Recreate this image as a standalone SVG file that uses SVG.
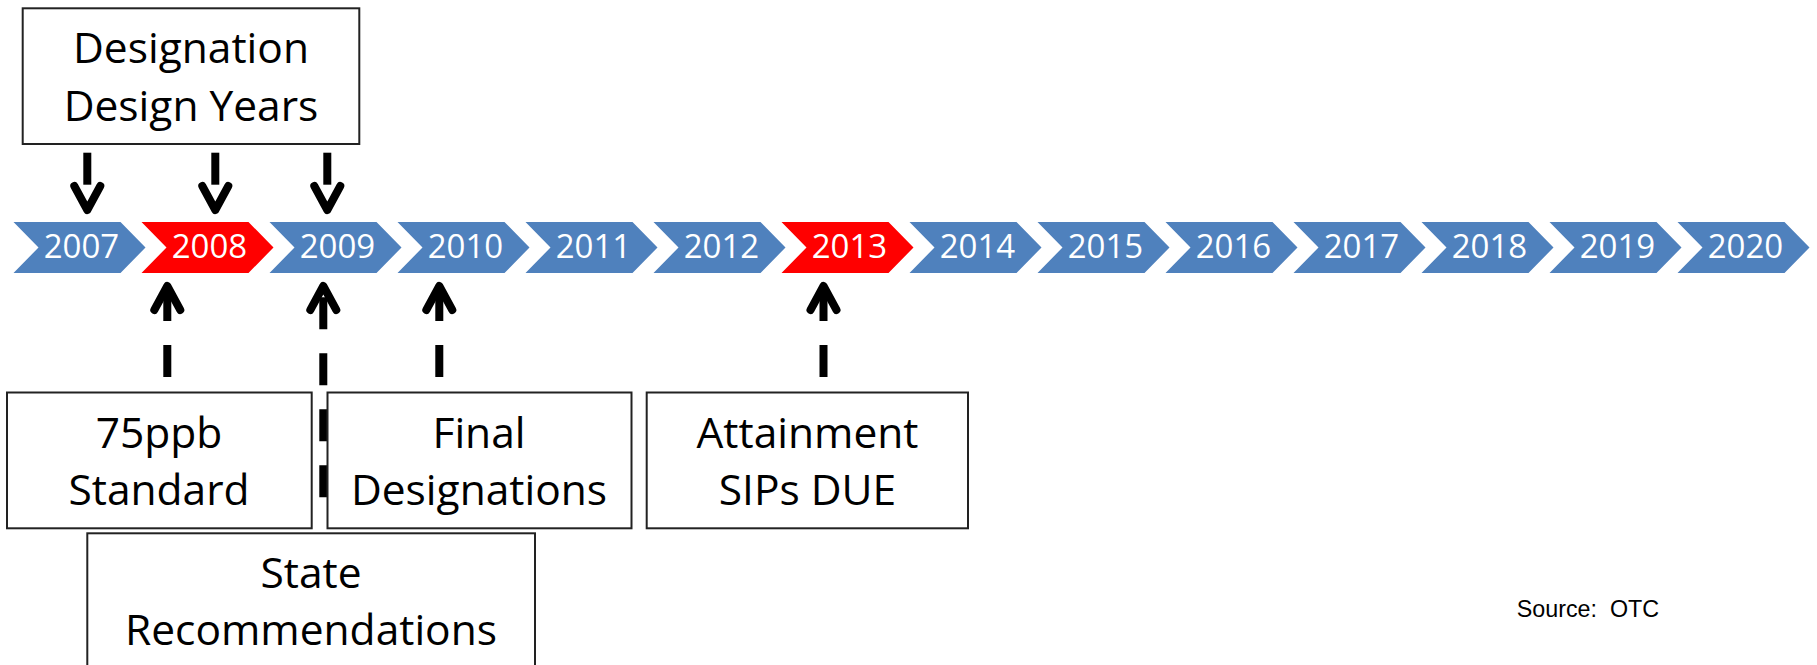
<svg xmlns="http://www.w3.org/2000/svg" width="1817" height="665" viewBox="0 0 1817 665">
<style>
.chev-blue{fill:#4F81BD}
.chev-red{fill:#FF0000}
.year{font-family:"Open Sans","Noto Sans",sans-serif;font-size:33px;fill:#fff;text-anchor:middle}
.box{fill:#fff;stroke:#222;stroke-width:2}
.lbl{font-family:"Open Sans","Noto Sans",sans-serif;font-size:42.5px;fill:#000;text-anchor:middle}
.shaft{stroke:#000;stroke-width:8;fill:none;stroke-dasharray:32 24}
.head{stroke:#000;stroke-width:8;fill:none;stroke-linecap:round;stroke-linejoin:round}
.src{font-family:"Liberation Sans",Arial,sans-serif;font-size:23.3px;fill:#000}
</style>
<defs>
<polygon id="chev" points="0,222 107,222 132,247.5 107,273 0,273 25,247.5"/>
</defs>
<g id="timeline">
<g id="y2007"><use href="#chev" x="13.5" class="chev-blue"/><text class="year" x="81.5" y="258">2007</text></g>
<g id="y2008"><use href="#chev" x="141.5" class="chev-red"/><text class="year" x="209.5" y="258">2008</text></g>
<g id="y2009"><use href="#chev" x="269.5" class="chev-blue"/><text class="year" x="337.5" y="258">2009</text></g>
<g id="y2010"><use href="#chev" x="397.5" class="chev-blue"/><text class="year" x="465.5" y="258">2010</text></g>
<g id="y2011"><use href="#chev" x="525.5" class="chev-blue"/><text class="year" x="593.5" y="258">2011</text></g>
<g id="y2012"><use href="#chev" x="653.5" class="chev-blue"/><text class="year" x="721.5" y="258">2012</text></g>
<g id="y2013"><use href="#chev" x="781.5" class="chev-red"/><text class="year" x="849.5" y="258">2013</text></g>
<g id="y2014"><use href="#chev" x="909.5" class="chev-blue"/><text class="year" x="977.5" y="258">2014</text></g>
<g id="y2015"><use href="#chev" x="1037.5" class="chev-blue"/><text class="year" x="1105.5" y="258">2015</text></g>
<g id="y2016"><use href="#chev" x="1165.5" class="chev-blue"/><text class="year" x="1233.5" y="258">2016</text></g>
<g id="y2017"><use href="#chev" x="1293.5" class="chev-blue"/><text class="year" x="1361.5" y="258">2017</text></g>
<g id="y2018"><use href="#chev" x="1421.5" class="chev-blue"/><text class="year" x="1489.5" y="258">2018</text></g>
<g id="y2019"><use href="#chev" x="1549.5" class="chev-blue"/><text class="year" x="1617.5" y="258">2019</text></g>
<g id="y2020"><use href="#chev" x="1677.5" class="chev-blue"/><text class="year" x="1745.5" y="258">2020</text></g>
</g>
<g id="connectors">
<path class="shaft" d="M87.3,152.7V206"/>
<polyline class="head" points="74.3,186 87.3,210 100.3,186"/>
<path class="shaft" d="M215.3,152.7V206"/>
<polyline class="head" points="202.3,186 215.3,210 228.3,186"/>
<path class="shaft" d="M327.3,152.7V206"/>
<polyline class="head" points="314.3,186 327.3,210 340.3,186"/>
<path class="shaft" d="M167.3,377V290"/>
<polyline class="head" points="154.3,310 167.3,286 180.3,310"/>
<path class="shaft" d="M323.3,497.3V290"/>
<polyline class="head" points="310.3,310 323.3,286 336.3,310"/>
<path class="shaft" d="M439.3,377V290"/>
<polyline class="head" points="426.3,310 439.3,286 452.3,310"/>
<path class="shaft" d="M823.5,377V290"/>
<polyline class="head" points="810.5,310 823.5,286 836.5,310"/>
</g>
<g id="designation-design-years">
<rect class="box" x="22.7" y="8.3" width="336.6" height="135.7"/>
<text class="lbl" x="191" y="63.3">Designation</text>
<text class="lbl" x="191" y="120.7">Design Years</text>
</g>
<g id="standard-75ppb">
<rect class="box" x="7" y="392.5" width="304.7" height="135.8"/>
<text class="lbl" x="159" y="448.3">75ppb</text>
<text class="lbl" x="159" y="505">Standard</text>
</g>
<g id="final-designations">
<rect class="box" x="327.5" y="392.5" width="304" height="135.8"/>
<text class="lbl" x="479" y="448.3">Final</text>
<text class="lbl" x="479" y="505">Designations</text>
</g>
<g id="attainment-sips">
<rect class="box" x="646.7" y="392.5" width="321.3" height="135.8"/>
<text class="lbl" x="807.5" y="448.3">Attainment</text>
<text class="lbl" x="807.5" y="505">SIPs DUE</text>
</g>
<g id="state-recommendations">
<rect class="box" x="87.3" y="533.3" width="447.7" height="150"/>
<text class="lbl" x="311" y="588">State</text>
<text class="lbl" x="311" y="645">Recommendations</text>
</g>
<g id="source">
<text class="src" x="1516.7" y="616.7" xml:space="preserve">Source:  OTC</text>
</g>
</svg>
